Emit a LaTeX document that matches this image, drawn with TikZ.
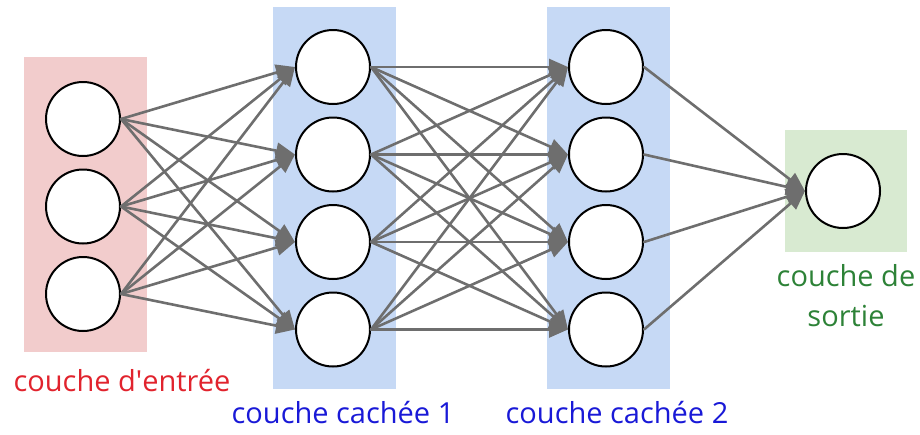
\documentclass[tikz,border=0pt]{standalone}
\usepackage{fontspec}
\setmainfont{Open Sans}
\usepackage{xcolor}
\usetikzlibrary{positioning,calc,arrows.meta}

\definecolor{inFill}{RGB}{242,204,204}
\definecolor{hidFill}{RGB}{198,217,245}
\definecolor{outFill}{RGB}{216,234,209}
\definecolor{edgeGray}{RGB}{110,110,110}
\definecolor{inText}{RGB}{225,35,45}
\definecolor{hidText}{RGB}{25,25,215}
\definecolor{outText}{RGB}{45,130,55}

\tikzset{
	neuron/.style={circle, draw=black, fill=white, line width=2pt, minimum size=74pt, inner sep=0pt},
	synapse/.style={draw=edgeGray, line width=2.6pt, -{Triangle[length=19pt,width=16pt]}},
	layerlabel/.style={font=\fontsize{29}{40}\selectfont, align=center}
}

\begin{document}
\begin{tikzpicture}[
				x=1pt,y=-1pt,
				line cap=round,line join=round
				]
				\useasboundingbox (0,0) rectangle (920,434);
				% ---- parameters
				\def\gap{87.5}
				\def\xIn{83}
				\def\xHa{333}
				\def\xHb{606}
				\def\xOut{843}
				
				% layer backgrounds
				\fill[inFill] (24,57) rectangle (147,352);
				\fill[hidFill] (273,7) rectangle (396,389);
				\fill[hidFill] (547,7) rectangle (670,389);
				\fill[outFill] (785,130) rectangle (907,252);
				
				% neurons
				\foreach \i in {1,2,3}{
					\node[neuron] (in\i) at (\xIn, {119+(\i-1)*\gap}) {};
				}
				\foreach \i in {1,...,4}{
					\node[neuron] (ha\i) at (\xHa, {67+(\i-1)*\gap}) {};
					\node[neuron] (hb\i) at (\xHb, {67+(\i-1)*\gap}) {};
				}
				\node[neuron] (out) at (\xOut, 191) {};
				
				% connections
				\foreach \i in {1,2,3}{
					\foreach \j in {1,...,4}{
						\draw[synapse] (in\i.east) -- (ha\j.west);
					}
				}
				\foreach \i in {1,...,4}{
					\foreach \j in {1,...,4}{
						\draw[synapse] (ha\i.east) -- (hb\j.west);
					}
					\draw[synapse] (hb\i.east) -- (out.west);
				}
				
				% labels
				\node[layerlabel, text=inText] (inLbl) at (122,381) {couche d\textquotesingle entrée};
				\node[layerlabel, text=hidText] (haLbl) at (343,413) {couche cachée 1};
				\node[layerlabel, text=hidText] (hbLbl) at (617,413) {couche cachée 2};
				\node[layerlabel, text=outText] (outLbl) at (846,296) {couche de\\sortie};
			\end{tikzpicture}
\end{document}
